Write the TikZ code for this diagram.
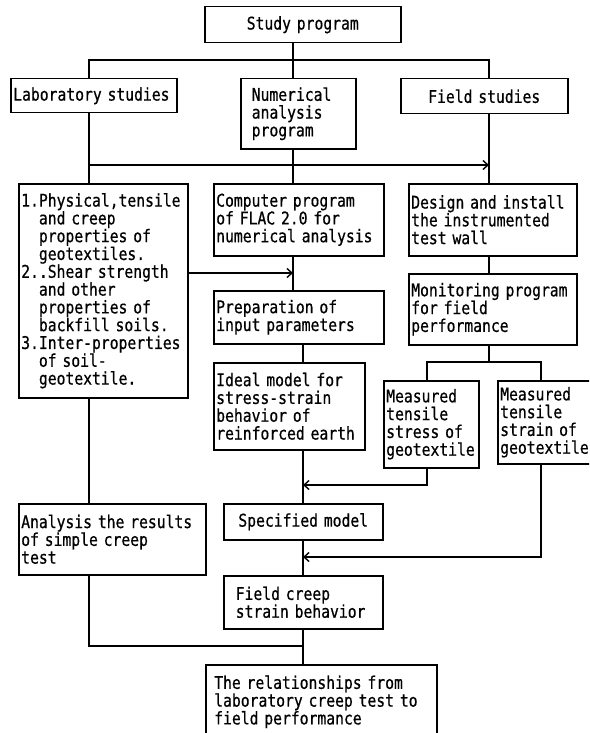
\documentclass[tikz,border=0pt]{standalone}
\usepackage{fontspec}
\newfontfamily\gothic[FakeStretch=0.84, FakeBold=0.6]{DejaVu Sans Mono}
\usetikzlibrary{arrows.meta, positioning}

\begin{document}
\begin{tikzpicture}[x=1pt, y=-1pt,
    box/.style={draw, rectangle, line width=1.5pt, anchor=north west, align=left,
      inner xsep=2.5pt, inner ysep=2pt, font=\gothic\fontsize{17.5}{17.8}\selectfont},
    link/.style={line width=1.4pt},
    arr/.style={link, -{Straight Barb[length=5pt, width=9pt]}}]
  \clip (0,0) rectangle (589,733);
  \fill[white] (0,0) rectangle (589,733);

  % blocks
  \node (study) [box, align=center, text width=191, minimum height=36] at (204,6) {Study program};
  \node (lab) [box, text width=161, minimum height=34] at (10,78) {Laboratory studies};
  \node (num) [box, inner xsep=11pt, text width=93, minimum height=70] at (240,78)
    {Numerical\\analysis\\program};
  \node (field) [box, align=center, text width=162, minimum height=35] at (400,78) {Field studies};

  \node (labl) [box, text width=164, minimum height=214] at (18,183)
    {1.Physical,tensile\\\phantom{1.}and creep\\\phantom{1.}properties of\\\phantom{1.}geotextiles.\\
     2..Shear strength\\\phantom{1.}and other\\\phantom{1.}properties of\\\phantom{1.}backfill soils.\\
     3.Inter-properties\\\phantom{1.}of soil-\\\phantom{1.}geotextile.};
  \node (comp) [box, text width=165, minimum height=72] at (213,183)
    {Computer program\\of FLAC 2.0 for\\numerical analysis};
  \node (design) [box, text width=163, minimum height=72] at (408,183)
    {Design and install\\the instrumented\\test wall};
  \node (prep) [box, text width=165, minimum height=53] at (213,290)
    {Preparation of\\input parameters};
  \node (monit) [box, text width=163, minimum height=71] at (408,273)
    {Monitoring program\\for field\\performance};
  \node (ideal) [box, text width=146, minimum height=87] at (213,362)
    {Ideal model for\\stress-strain\\behavior of\\reinforced earth};
  \node (mstress) [box, text width=90, minimum height=87] at (383,380)
    {Measured\\tensile\\stress of\\geotextile};
  \node (mstrain) [box, text width=91, minimum height=83] at (497,380)
    {Measured\\tensile\\strain of\\geotextile};
  \node (spec) [box, align=center, text width=154, minimum height=36] at (223,503) {Specified model};
  \node (anal) [box, text width=182, minimum height=71] at (18,503)
    {Analysis the results\\of simple creep\\test};
  \node (creep) [box, inner xsep=12pt, text width=135, minimum height=53] at (223,575)
    {Field creep\\strain behavior};
  \node (final) [box, inner xsep=8.5pt, text width=214, minimum height=74] at (205,664)
    {The relationships from\\laboratory creep test to\\field performance};

  % junctions
  \coordinate (m1) at (293,0);
  \coordinate (m2) at (303,0);
  \coordinate (j1) at (89,60);
  \coordinate (j2) at (489,60);
  \coordinate (j3) at (89,165);
  \coordinate (j4) at (489,165);
  \coordinate (k) at (293,273);
  \coordinate (j5) at (427,362);
  \coordinate (j6) at (541,362);
  \coordinate (j7) at (427,485);
  \coordinate (j8) at (541,557);
  \coordinate (j9) at (89,646);

  % arrows
  \draw[link] (study.south -| m1) -- (num.north -| m1);
  \draw[link] (lab.north -| j1) -- (j1) -- (j2) -- (field.north -| j2);
  \draw[link] (lab.south -| j3) -- (labl.north -| j3);
  \draw[link] (num.south -| m1) -- (comp.north -| m1);
  \draw[link] (field.south -| j4) -- (design.north -| j4);
  \draw[arr] (j3) -- (j4);
  \draw[arr] (labl.east |- k) -- (k);
  \draw[link] (comp.south -| m1) -- (prep.north -| m1);
  \draw[link] (prep.south -| m2) -- (ideal.north -| m2);
  \draw[link] (ideal.south -| m2) -- (spec.north -| m2);
  \draw[link] (design.south -| j2) -- (monit.north -| j2);
  \draw[link] (monit.south -| j2) -- (j2 |- j5);
  \draw[link] (mstress.north -| j5) -- (j5) -- (j6) -- (mstrain.north -| j6);
  \draw[arr] (mstress.south -| j7) -- (j7) -- (m2 |- j7);
  \draw[arr] (mstrain.south -| j8) -- (j8) -- (m2 |- j8);
  \draw[link] (labl.south -| j3) -- (anal.north -| j3);
  \draw[link] (spec.south -| m2) -- (creep.north -| m2);
  \draw[link] (anal.south -| j9) -- (j9) -- (m2 |- j9);
  \draw[link] (creep.south -| m2) -- (final.north -| m2);
\end{tikzpicture}
\end{document}
